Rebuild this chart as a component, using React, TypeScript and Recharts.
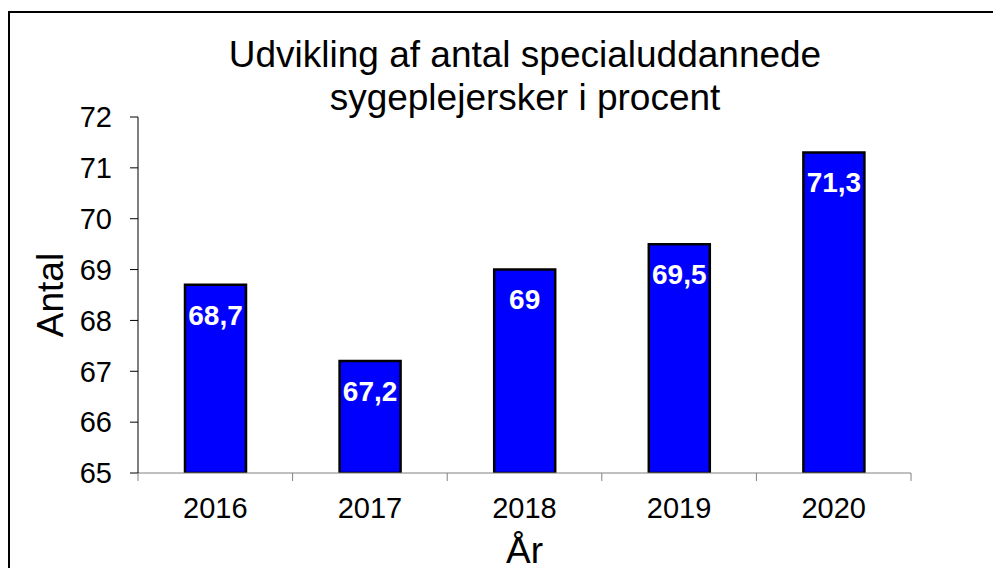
import { BarChart, Bar, XAxis, YAxis, LabelList } from "recharts";

// values
const years = ["2016", "2017", "2018", "2019", "2020"];
const shares = [68.7, 67.2, 69, 69.5, 71.3];
const yTicks = [65, 66, 67, 68, 69, 70, 71, 72];

const titleLines = ["Udvikling af antal specialuddannede", "sygeplejersker i procent"];

const FONT = "'Liberation Sans', Arial, sans-serif";
const W = 993;
const H = 568;
const MARGIN = { top: 117, right: 82, left: 10, bottom: 0 };
const Y_AXIS_W = 128;
const PLOT_W = W - MARGIN.left - MARGIN.right - Y_AXIS_W;

const data = years.map((year, i) => ({ year, value: shares[i] }));

const fmt = (v: number | string) => String(v).replace(".", ",");

// Excel style: tick marks sit between the categories, labels in the middle
function XTick(props: any) {
  const { x, y, payload, index } = props;
  const half = payload?.offset > 0 ? payload.offset : PLOT_W / years.length / 2;
  const last = index === years.length - 1;
  return (
    <g>
      <line x1={x - half} y1={y} x2={x - half} y2={y + 8} stroke="#808080" />
      {last && <line x1={x + half} y1={y} x2={x + half} y2={y + 8} stroke="#808080" />}
      <text x={x} y={y + 45} textAnchor="middle" fontSize={29} fill="#000">
        {payload.value}
      </text>
    </g>
  );
}

export default function App() {
  return (
    <div
      style={{
        position: "absolute",
        left: 0,
        top: 0,
        width: W,
        height: H,
        overflow: "hidden",
        background: "#fff",
        fontFamily: FONT,
      }}
    >
      <div
        style={{
          position: "absolute",
          left: 8,
          top: 11,
          width: 1100,
          height: 700,
          border: "2px solid #000",
        }}
      />
      <div
        style={{
          position: "absolute",
          left: 0,
          top: 33,
          width: 1050,
          textAlign: "center",
          fontSize: 37,
          lineHeight: "43px",
          color: "#000",
        }}
      >
        {titleLines.map((t) => (
          <div key={t}>{t}</div>
        ))}
      </div>
      <div style={{ position: "absolute", left: 0, top: 0 }}>
        <BarChart width={W} height={H} data={data} margin={MARGIN} style={{ fontFamily: FONT }}>
          <XAxis
            dataKey="year"
            height={95}
            interval={0}
            tickLine={false}
            tickSize={0}
            tickMargin={0}
            axisLine={{ stroke: "#808080" }}
            tick={<XTick />}
            label={{
              value: "År",
              position: "insideBottom",
              offset: 5,
              fontSize: 37,
              fill: "#000",
            }}
          />
          <YAxis
            width={Y_AXIS_W}
            domain={[65, 72]}
            ticks={yTicks}
            interval={0}
            allowDataOverflow
            tickSize={8}
            tickMargin={18}
            tickLine={{ stroke: "#000" }}
            axisLine={{ stroke: "#000" }}
            tick={{ fill: "#000", fontSize: 29 }}
            label={{
              value: "Antal",
              angle: -90,
              position: "insideLeft",
              offset: 40,
              fontSize: 37,
              fill: "#000",
              style: { textAnchor: "middle" },
            }}
          />
          <Bar
            dataKey="value"
            fill="#0000FF"
            stroke="#000"
            strokeWidth={2.5}
            barSize={61}
            isAnimationActive={false}
          >
            <LabelList
              dataKey="value"
              position="insideTop"
              offset={20}
              fill="#fff"
              fontSize={28}
              fontWeight="bold"
              formatter={(v: any) => fmt(v)}
            />
          </Bar>
        </BarChart>
      </div>
    </div>
  );
}
